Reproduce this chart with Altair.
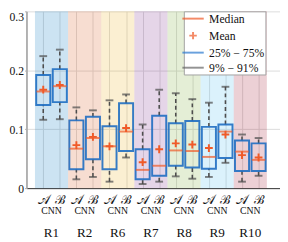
import altair as alt
import pandas as pd

regions = ["R1", "R2", "R6", "R7", "R8", "R9", "R10"]
methods = ["𝒜", "ℬ"]
group_label = "CNN"
region_colors = ["#0072BD", "#D95319", "#EDB120", "#7E2F8E", "#77AC30", "#4DBEEE", "#A2142F"]

# order: R1-A, R1-B, R2-A, R2-B, ...
whisker_lo = [0.116, 0.117, 0.015, 0.019, 0.011, 0.052, 0.007, 0.011, 0.020, 0.016, 0.019, 0.043, 0.011, 0.021]
q25 = [0.141, 0.146, 0.032, 0.049, 0.032, 0.063, 0.015, 0.021, 0.038, 0.035, 0.033, 0.051, 0.029, 0.029]
median = [0.164, 0.173, 0.067, 0.085, 0.071, 0.096, 0.031, 0.038, 0.064, 0.063, 0.053, 0.096, 0.062, 0.048]
mean = [0.167, 0.175, 0.073, 0.087, 0.071, 0.102, 0.044, 0.066, 0.076, 0.074, 0.068, 0.091, 0.056, 0.052]
q75 = [0.192, 0.202, 0.115, 0.121, 0.105, 0.144, 0.066, 0.123, 0.110, 0.114, 0.104, 0.108, 0.081, 0.076]
whisker_hi = [0.224, 0.235, 0.137, 0.132, 0.149, 0.159, 0.108, 0.167, 0.161, 0.151, 0.145, 0.172, 0.091, 0.085]

y_ticks = [0, 0.1, 0.2, 0.3]
legend_items = ["Median", "Mean", "25% − 75%", "9% − 91%"]

ORANGE = "#F05A28"
BLUE = "#1F6EC2"
GRAY = "#4D4D4D"
legend_colors = [ORANGE, ORANGE, "#2A7AD0", "#666666"]
legend_shapes = ["M-2,0H2", "M-0.7,0H0.7M0,-0.7V0.7", "M-2,0H2", "M-2,0H2"]

rows = []
for i, r in enumerate(regions):
    for j, m in enumerate(methods):
        k = 2 * i + j
        rows.append(dict(region=r, method=m, pos=k + 1, lo=whisker_lo[k], q25=q25[k],
                         med=median[k], mean=mean[k], q75=q75[k], hi=whisker_hi[k]))
df = pd.DataFrame(rows)
bands = pd.DataFrame({"region": regions, "idx": list(range(len(regions)))})

W, H = 261, 182
FONT = "Liberation Serif"

x_scale = alt.Scale(domain=[0.28, 2 * len(regions) + 1], nice=False, zero=False)
y_scale = alt.Scale(domain=[0, 0.3], nice=False)

x_axis = alt.Axis(
    values=list(range(1, 2 * len(regions) + 1)),
    labelExpr=f"datum.value % 2 == 1 ? '{methods[0]}' : '{methods[1]}'",
    title=None, grid=True, gridColor="#dcdcdc", ticks=False,
    domainColor="#333333", domainWidth=1,
    labelFont=FONT, labelFontSize=13, labelPadding=6, labelColor="#111111",
)
y_axis = alt.Axis(
    values=y_ticks,
    labelExpr="datum.value == 0 ? '0' : format(datum.value, '.1f')",
    title=None, grid=True, gridColor="#dcdcdc",
    domainColor="#b0b0b0", domainWidth=2, tickColor="#b0b0b0", tickSize=2,
    labelFont=FONT, labelFontSize=12, labelPadding=1, labelColor="#111111",
    labelBaseline={"condition": {"test": "datum.value >= 0.29", "value": "top"}, "value": "middle"},
)


def X(field):
    return alt.X(field, type="quantitative", scale=x_scale, axis=x_axis)


def Y(field):
    return alt.Y(field, type="quantitative", scale=y_scale, axis=y_axis)


band = alt.Chart(bands).transform_calculate(
    start="2 * datum.idx + 0.5", end="2 * datum.idx + 2.5"
).mark_rect(opacity=0.2).encode(
    x=X("start"), x2="end",
    y=alt.Y(datum=0, type="quantitative", scale=y_scale, axis=y_axis),
    y2=alt.datum(0.3),
    fill=alt.Fill("region:N", scale=alt.Scale(domain=regions, range=region_colors), legend=None),
)

base = alt.Chart(df)
whisk_hi = base.mark_rule(color=GRAY, strokeWidth=1.6, strokeDash=[4, 3]).encode(x=X("pos"), y=Y("q75"), y2="hi")
whisk_lo = base.mark_rule(color=GRAY, strokeWidth=1.6, strokeDash=[4, 3]).encode(x=X("pos"), y=Y("lo"), y2="q25")
cap_hi = base.mark_tick(orient="horizontal", color=GRAY, size=8, thickness=2).encode(x=X("pos"), y=Y("hi"))
cap_lo = base.mark_tick(orient="horizontal", color=GRAY, size=8, thickness=2).encode(x=X("pos"), y=Y("lo"))
box = base.mark_bar(size=14.5, fill="transparent", stroke=BLUE, strokeWidth=2, strokeOpacity=0.9).encode(
    x=X("pos"), y=Y("q25"), y2="q75")
med = base.mark_tick(orient="horizontal", color=ORANGE, size=14, thickness=2).encode(x=X("pos"), y=Y("med"))
mn = base.mark_point(shape="M-1,0H1M0,-1V1", size=64, filled=False, color=ORANGE, strokeWidth=2, opacity=1).encode(
    x=X("pos"), y=Y("mean"))

grp = alt.Chart(bands).transform_calculate(center="2 * datum.idx + 1.5", grp=f"'{group_label}'")
cnn_text = grp.mark_text(font=FONT, fontSize=10, color="#111111", baseline="middle").encode(
    x=X("center"), y=alt.value(H + 24), text="grp:N")
reg_text = grp.mark_text(font=FONT, fontSize=13.5, color="#111111", baseline="middle").encode(
    x=X("center"), y=alt.value(H + 46), text="region:N")

leg_props = dict(
    orient="none", legendX=162, legendY=0, title=None, padding=1,
    symbolSize=121, symbolStrokeWidth=2, symbolOffset=2, labelOffset=10,
    labelFont=FONT, labelFontSize=12, labelColor="#111111", rowPadding=2.5,
    fillColor="white", strokeColor="#a0a0a0",
)
leg = alt.Chart(pd.DataFrame({"item": legend_items})).transform_filter("false").mark_point(
    filled=False, strokeWidth=2).encode(
    color=alt.Color("item:N", scale=alt.Scale(domain=legend_items, range=legend_colors),
                    legend=alt.Legend(**leg_props)),
    shape=alt.Shape("item:N", scale=alt.Scale(domain=legend_items, range=legend_shapes),
                    legend=alt.Legend(**leg_props)),
)

chart = alt.layer(band, whisk_hi, whisk_lo, cap_hi, cap_lo, box, med, mn, cnn_text, reg_text, leg).properties(
    width=W, height=H,
    autosize=alt.AutoSizeParams(type="none"),
    padding={"left": 19, "top": 0, "right": 0, "bottom": 52},
    background="white",
).configure_view(stroke=None)

chart.save("out.html", embed_options={"renderer": "svg", "actions": False})
